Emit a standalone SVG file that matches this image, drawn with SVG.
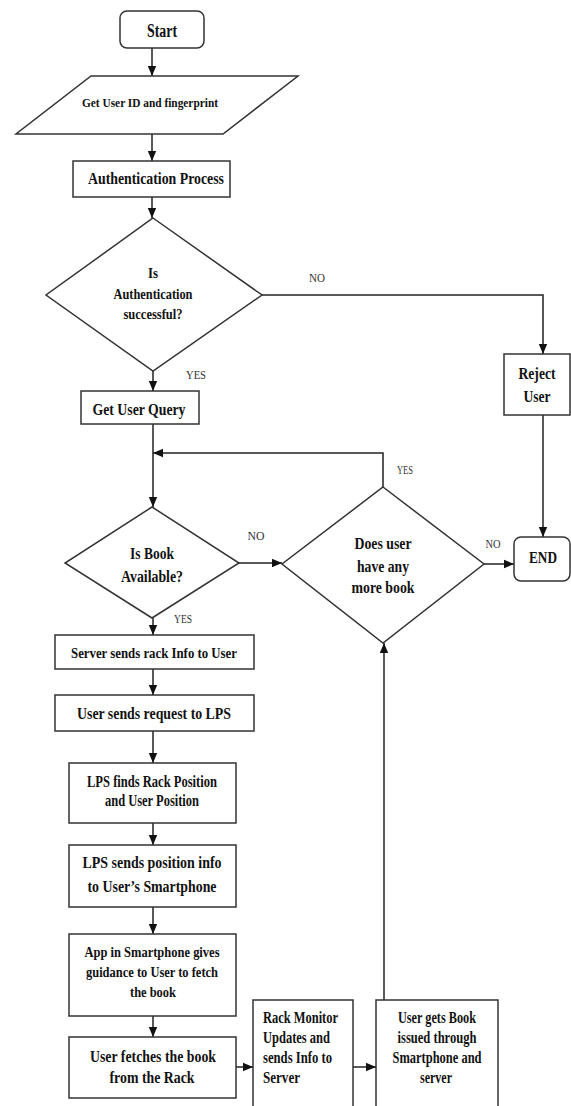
<svg xmlns="http://www.w3.org/2000/svg" width="571" height="1106" viewBox="0 0 571 1106">
<defs>
<marker id="ah" markerUnits="userSpaceOnUse" markerWidth="10" markerHeight="10" viewBox="0 0 10 10" refX="10" refY="5" orient="auto">
<path d="M0,0.8 L10,5 L0,9.2 Z" fill="#111"/>
</marker>
<style>
.s{fill:#fff;stroke:#333;stroke-width:1.5}
.t{font-family:"Liberation Serif","Times New Roman",serif;font-weight:bold;font-size:16.5px;fill:#111;text-anchor:middle}
.m{font-size:15px}
.l{font-family:"Liberation Serif","Times New Roman",serif;font-size:13px;fill:#333;text-anchor:middle}
.c{fill:none;stroke:#222;stroke-width:1.5;marker-end:url(#ah)}
</style>
</defs>
<rect width="571" height="1106" fill="#fff"/>
<g id="connectors">
<line class="c" x1="152" y1="48" x2="152" y2="76"/>
<line class="c" x1="152" y1="134" x2="152" y2="161"/>
<line class="c" x1="152" y1="197" x2="152" y2="218"/>
<line class="c" x1="153" y1="371" x2="153" y2="391"/>
<polyline class="c" points="262,295 543,295 543,354"/>
<line class="c" x1="543" y1="415" x2="543" y2="537"/>
<line class="c" x1="153" y1="424" x2="153" y2="507"/>
<polyline class="c" points="383,487 383,453 153,453"/>
<line class="c" x1="239" y1="563" x2="282" y2="563"/>
<line class="c" x1="484" y1="564" x2="514" y2="564"/>
<line class="c" x1="153" y1="618" x2="153" y2="635"/>
<line class="c" x1="153" y1="669" x2="153" y2="695"/>
<line class="c" x1="153" y1="731" x2="153" y2="763"/>
<line class="c" x1="153" y1="823" x2="153" y2="845"/>
<line class="c" x1="153" y1="907" x2="153" y2="934"/>
<line class="c" x1="153" y1="1016" x2="153" y2="1037"/>
<line class="c" x1="236" y1="1067" x2="253" y2="1067"/>
<line class="c" x1="353" y1="1067" x2="376" y2="1067"/>
<line class="c" x1="384" y1="1000" x2="384" y2="643"/>
<text class="l" x="196" y="379" textLength="20" lengthAdjust="spacingAndGlyphs">YES</text>
<text class="l" x="317" y="282" textLength="16" lengthAdjust="spacingAndGlyphs">NO</text>
<text class="l" x="405" y="474" textLength="16" lengthAdjust="spacingAndGlyphs">YES</text>
<text class="l" x="256" y="540" textLength="17" lengthAdjust="spacingAndGlyphs">NO</text>
<text class="l" x="183" y="623" textLength="18" lengthAdjust="spacingAndGlyphs">YES</text>
<text class="l" x="493" y="548" textLength="15" lengthAdjust="spacingAndGlyphs">NO</text>
</g>
<g id="start">
<rect class="s" x="120" y="11" width="84" height="37" rx="7"/>
<text class="t" x="162" y="37" style="font-size:18px" textLength="30" lengthAdjust="spacingAndGlyphs">Start</text>
</g>
<g id="get-user-id">
<polygon class="s" points="91,76 298,76 223,134 16,134"/>
<text class="t" x="150" y="107" style="font-size:13.5px" textLength="136" lengthAdjust="spacingAndGlyphs">Get User ID and  fingerprint</text>
</g>
<g id="auth-process">
<rect class="s" x="73" y="161" width="157" height="36"/>
<text class="t" x="156" y="184" textLength="136" lengthAdjust="spacingAndGlyphs">Authentication Process</text>
</g>
<g id="auth-decision">
<polygon class="s" points="153,218 262,295 153,371 46,295"/>
<text class="t m" x="153" y="278" textLength="10" lengthAdjust="spacingAndGlyphs">Is</text>
<text class="t m" x="153" y="299" textLength="79" lengthAdjust="spacingAndGlyphs">Authentication</text>
<text class="t m" x="153" y="319" textLength="59" lengthAdjust="spacingAndGlyphs">successful?</text>
</g>
<g id="reject-user">
<rect class="s" x="504" y="354" width="66" height="61"/>
<text class="t" x="537" y="379" textLength="37" lengthAdjust="spacingAndGlyphs">Reject</text>
<text class="t" x="537" y="402" textLength="27" lengthAdjust="spacingAndGlyphs">User</text>
</g>
<g id="get-user-query">
<rect class="s" x="81" y="391" width="118" height="33"/>
<text class="t" x="139" y="415" textLength="93" lengthAdjust="spacingAndGlyphs">Get User Query</text>
</g>
<g id="book-available">
<polygon class="s" points="152,507 239,563 152,618 65,563"/>
<text class="t" x="152" y="559" textLength="44" lengthAdjust="spacingAndGlyphs">Is Book</text>
<text class="t" x="152" y="582" textLength="62" lengthAdjust="spacingAndGlyphs">Available?</text>
</g>
<g id="more-book">
<polygon class="s" points="383,487 484,564 383,643 282,564"/>
<text class="t" x="383" y="549" textLength="57" lengthAdjust="spacingAndGlyphs">Does user</text>
<text class="t" x="383" y="572" textLength="52" lengthAdjust="spacingAndGlyphs">have any</text>
<text class="t" x="383" y="593" textLength="63" lengthAdjust="spacingAndGlyphs">more book</text>
</g>
<g id="end">
<rect class="s" x="514" y="537" width="56" height="44" rx="7"/>
<text class="t" x="543" y="563" textLength="28" lengthAdjust="spacingAndGlyphs">END</text>
</g>
<g id="server-sends">
<rect class="s" x="55" y="635" width="199" height="34"/>
<text class="t m" x="154" y="658" textLength="166" lengthAdjust="spacingAndGlyphs">Server sends rack Info to User</text>
</g>
<g id="user-sends">
<rect class="s" x="55" y="695" width="199" height="36"/>
<text class="t" x="154" y="719" textLength="154" lengthAdjust="spacingAndGlyphs">User sends request to LPS</text>
</g>
<g id="lps-finds">
<rect class="s" x="69" y="763" width="167" height="60"/>
<text class="t" x="152" y="787" textLength="130" lengthAdjust="spacingAndGlyphs">LPS finds Rack Position</text>
<text class="t" x="152" y="806" textLength="94" lengthAdjust="spacingAndGlyphs">and User Position</text>
</g>
<g id="lps-sends">
<rect class="s" x="69" y="845" width="167" height="62"/>
<text class="t" x="152" y="868" textLength="139" lengthAdjust="spacingAndGlyphs">LPS sends position info</text>
<text class="t" x="152" y="892" textLength="129" lengthAdjust="spacingAndGlyphs">to User’s Smartphone</text>
</g>
<g id="app-guidance">
<rect class="s" x="69" y="934" width="167" height="82"/>
<text class="t m" x="152" y="957" textLength="135" lengthAdjust="spacingAndGlyphs">App in Smartphone gives</text>
<text class="t m" x="152" y="977" textLength="132" lengthAdjust="spacingAndGlyphs">guidance to User to fetch</text>
<text class="t m" x="153" y="997" textLength="46" lengthAdjust="spacingAndGlyphs">the book</text>
</g>
<g id="user-fetches">
<rect class="s" x="69" y="1037" width="167" height="61"/>
<text class="t" x="153" y="1062" textLength="126" lengthAdjust="spacingAndGlyphs">User fetches the book</text>
<text class="t" x="152" y="1083" textLength="85" lengthAdjust="spacingAndGlyphs">from the Rack</text>
</g>
<g id="rack-monitor">
<rect class="s" x="253" y="1000" width="100" height="112"/>
<text class="t" x="263" y="1023" style="text-anchor:start" textLength="75" lengthAdjust="spacingAndGlyphs">Rack Monitor</text>
<text class="t" x="263" y="1043" style="text-anchor:start" textLength="67" lengthAdjust="spacingAndGlyphs">Updates and</text>
<text class="t" x="263" y="1063" style="text-anchor:start" textLength="69" lengthAdjust="spacingAndGlyphs">sends Info to</text>
<text class="t" x="263" y="1083" style="text-anchor:start" textLength="37" lengthAdjust="spacingAndGlyphs">Server</text>
</g>
<g id="user-gets-book">
<rect class="s" x="376" y="1000" width="122" height="112"/>
<text class="t" x="437" y="1023" textLength="78" lengthAdjust="spacingAndGlyphs">User gets Book</text>
<text class="t" x="437" y="1043" textLength="79" lengthAdjust="spacingAndGlyphs">issued through</text>
<text class="t" x="437" y="1063" textLength="89" lengthAdjust="spacingAndGlyphs">Smartphone and</text>
<text class="t" x="436" y="1083" textLength="32" lengthAdjust="spacingAndGlyphs">server</text>
</g>
</svg>
